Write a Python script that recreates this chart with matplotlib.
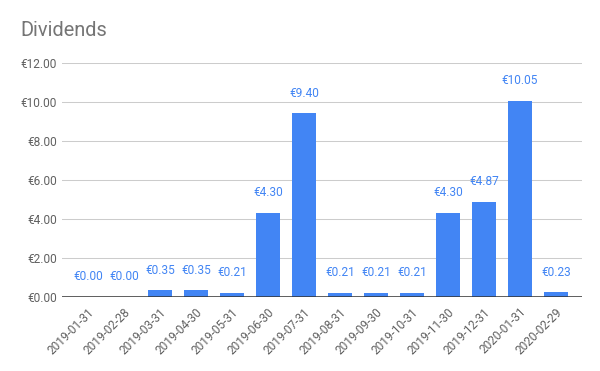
import matplotlib

matplotlib.use("Agg")
import matplotlib.pyplot as plt
import numpy as np

plt.rcParams["font.family"] = ["Roboto", "DejaVu Sans"]

# Data
months = [
    "2019-01-31", "2019-02-28", "2019-03-31", "2019-04-30", "2019-05-31",
    "2019-06-30", "2019-07-31", "2019-08-31", "2019-09-30", "2019-10-31",
    "2019-11-30", "2019-12-31", "2020-01-31", "2020-02-29",
]
dividends = [0.00, 0.00, 0.35, 0.35, 0.21, 4.30, 9.40, 0.21, 0.21, 0.21,
             4.30, 4.87, 10.05, 0.23]
y_ticks = [0, 2, 4, 6, 8, 10, 12]

BLUE = "#4285f4"
GRAY = "#616161"

fig = plt.figure(figsize=(6.0, 3.71), dpi=100)
ax = fig.add_axes([0.1038, 0.1995, 0.8657, 0.632])

x = np.arange(len(months))
ax.bar(x, dividends, width=0.66, color=BLUE, zorder=3)

for xi, val in zip(x, dividends):
    ax.annotate(f"€{val:.2f}", (xi, val), xytext=(0, 14.4),
                textcoords="offset points", ha="center", va="center",
                fontsize=8.6, color=BLUE)

ax.set_xlim(-0.714, len(months) - 1 + 0.714)
ax.set_ylim(0, 12)
ax.set_yticks(y_ticks)
ax.set_yticklabels([f"€{v:.2f}" for v in y_ticks], fontsize=8.6, color=GRAY)
ax.set_xticks(x)
ax.set_xticklabels(months, rotation=45, ha="right", va="top",
                   rotation_mode="anchor", fontsize=8.6, color=GRAY)
ax.tick_params(axis="both", length=0)
ax.tick_params(axis="y", pad=3.6)
ax.tick_params(axis="x", pad=6)

ax.grid(axis="y", color="#cccccc", linewidth=0.75, zorder=0)
for s in ax.spines.values():
    s.set_visible(False)
ax.axhline(0, color="#333333", linewidth=1.1, zorder=4)

fig.text(20 / 600, 1 - 30 / 371, "Dividends", fontsize=14.4, color="#757575",
         ha="left", va="center")

fig.savefig("out.png", dpi=100)
